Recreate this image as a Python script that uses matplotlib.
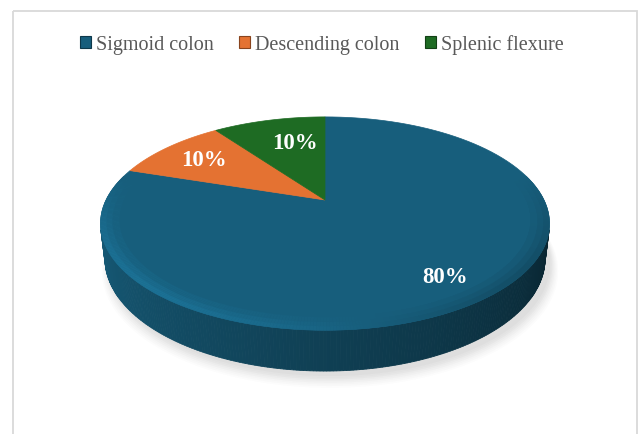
import numpy as np
import matplotlib
matplotlib.use("Agg")
import matplotlib.pyplot as plt
from matplotlib.patches import Polygon, Rectangle, Patch
from matplotlib.colors import to_rgb

categories = ["Sigmoid colon", "Descending colon", "Splenic flexure"]
values = [80, 10, 10]
labels = ["80%", "10%", "10%"]
colors = ["#175E7C", "#E47232", "#1E6B23"]

W, H = 641, 435
fig = plt.figure(figsize=(W / 100, H / 100), dpi=100)
ax = fig.add_axes([0, 0, 1, 1])
ax.set_xlim(0, W)
ax.set_ylim(H, 0)
ax.axis("off")

# perspective camera
cx, cy = 325, 201
phi = np.deg2rad(26.8)
s, c = np.sin(phi), np.cos(phi)
D = 4.04
fx = 219 * D
fy = 225 * D
t = 0.175


def proj(u, v, h=0.0):
    yup = v * s + h * c
    depth = D + v * c - h * s
    return cx + fx * u / depth, cy - fy * yup / depth


# shadow
th = np.linspace(0, 2 * np.pi, 200)
for k, a in zip(range(8), np.linspace(0.045, 0.02, 8)):
    sc = 1.0 + 0.005 * k
    xs, ys = proj(np.cos(th) * sc, np.sin(th) * sc, -t)
    ax.add_patch(Polygon(np.c_[xs + 5, ys + 5 + k * 0.8], closed=True,
                         fc="#7f7f7f", ec="none", alpha=a, zorder=1))

# angles: start at 12 o'clock, clockwise
fr = np.array(values) / np.sum(values)
starts = 90 - 360 * np.concatenate([[0], np.cumsum(fr)[:-1]])
ends = starts - 360 * fr


def slice_of(theta_deg):
    a = (90 - theta_deg) % 360
    cum = np.cumsum(fr) * 360
    return min(int(np.searchsorted(cum, a, side="right")), len(values) - 1)


# side faces (visible part)
lim = -1 / (D * c)
tv = np.linspace(np.pi, 2 * np.pi, 260)
tv = tv[np.sin(tv) < lim + 0.01]
for i in range(len(tv) - 1):
    a0, a1 = tv[i], tv[i + 1]
    idx = slice_of(np.rad2deg((a0 + a1) / 2))
    base = np.array(to_rgb(colors[idx]))
    frac = (a0 - tv[0]) / (tv[-1] - tv[0])
    fac = 0.95 - 0.55 * frac
    col = np.clip(base * fac, 0, 1)
    p = [proj(np.cos(a0), np.sin(a0), 0), proj(np.cos(a1), np.sin(a1), 0),
         proj(np.cos(a1), np.sin(a1), -t), proj(np.cos(a0), np.sin(a0), -t)]
    ax.add_patch(Polygon(p, closed=True, fc=col, ec=col, lw=0.6, zorder=2))

# top faces
for st, en, col in zip(starts, ends, colors):
    ang = np.deg2rad(np.linspace(st, en, 120))
    xs, ys = proj(np.cos(ang), np.sin(ang))
    x0, y0 = proj(0, 0)
    pts = np.c_[np.r_[x0, xs], np.r_[y0, ys]]
    ax.add_patch(Polygon(pts, closed=True, fc=col, ec=col, lw=0.5, zorder=3))

# soft bevel shading along the front rim of the top face
tb = np.linspace(np.pi * 0.92, np.pi * 2.08, 300)
for i in range(len(tb) - 1):
    a0, a1 = tb[i], tb[i + 1]
    am = (a0 + a1) / 2
    w = max(0.0, -np.sin(am) + 0.25) / 1.25
    idx = slice_of(np.rad2deg(am))
    base = np.array(to_rgb(colors[idx]))
    lr = -np.cos(am)  # +1 left, -1 right
    rings = [(0.92, 0.95, 0.3), (0.95, 0.975, 0.65), (0.975, 1.0, 1.0)]
    for r0, r1, ww in rings:
        fac = 1.0 + w * ww * (0.28 * max(lr, 0) - 0.38 * max(-lr, 0) + 0.06)
        col = np.clip(base * fac, 0, 1)
        p = [proj(r0 * np.cos(a0), r0 * np.sin(a0)), proj(r0 * np.cos(a1), r0 * np.sin(a1)),
             proj(r1 * np.cos(a1), r1 * np.sin(a1)), proj(r1 * np.cos(a0), r1 * np.sin(a0))]
        ax.add_patch(Polygon(p, closed=True, fc=col, ec=col, lw=0.3, zorder=4))

# labels
label_r = [0.8, 0.75, 0.72]
label_dx = [0, 0, 12]
label_dy = [0, 0, 3]
for st, en, lab, r, dx, dy in zip(starts, ends, labels, label_r, label_dx, label_dy):
    m = np.deg2rad((st + en) / 2)
    x, y = proj(r * np.cos(m), r * np.sin(m))
    ax.text(x + dx, y + dy, lab, color="white", fontsize=16.5, fontweight="bold",
            family="Liberation Serif", ha="center", va="center", zorder=6)

# border
ax.add_patch(Rectangle((13, 12), 624, 440, fc="none", ec="#D9D9D9", lw=1.3, zorder=0))

handles = [Patch(fc=col, ec=np.clip(np.array(to_rgb(col)) * 0.6, 0, 1), lw=0.8) for col in colors]
leg = fig.legend(handles, categories, loc="center", bbox_to_anchor=(322 / W, 1 - 45 / H),
                 ncol=3, frameon=False, prop={"family": "Liberation Serif", "size": 14.5},
                 handlelength=0.55, handleheight=0.55, handletextpad=0.25, columnspacing=1.25)
for txt in leg.get_texts():
    txt.set_color("#595959")

fig.savefig("out.png", dpi=100)
